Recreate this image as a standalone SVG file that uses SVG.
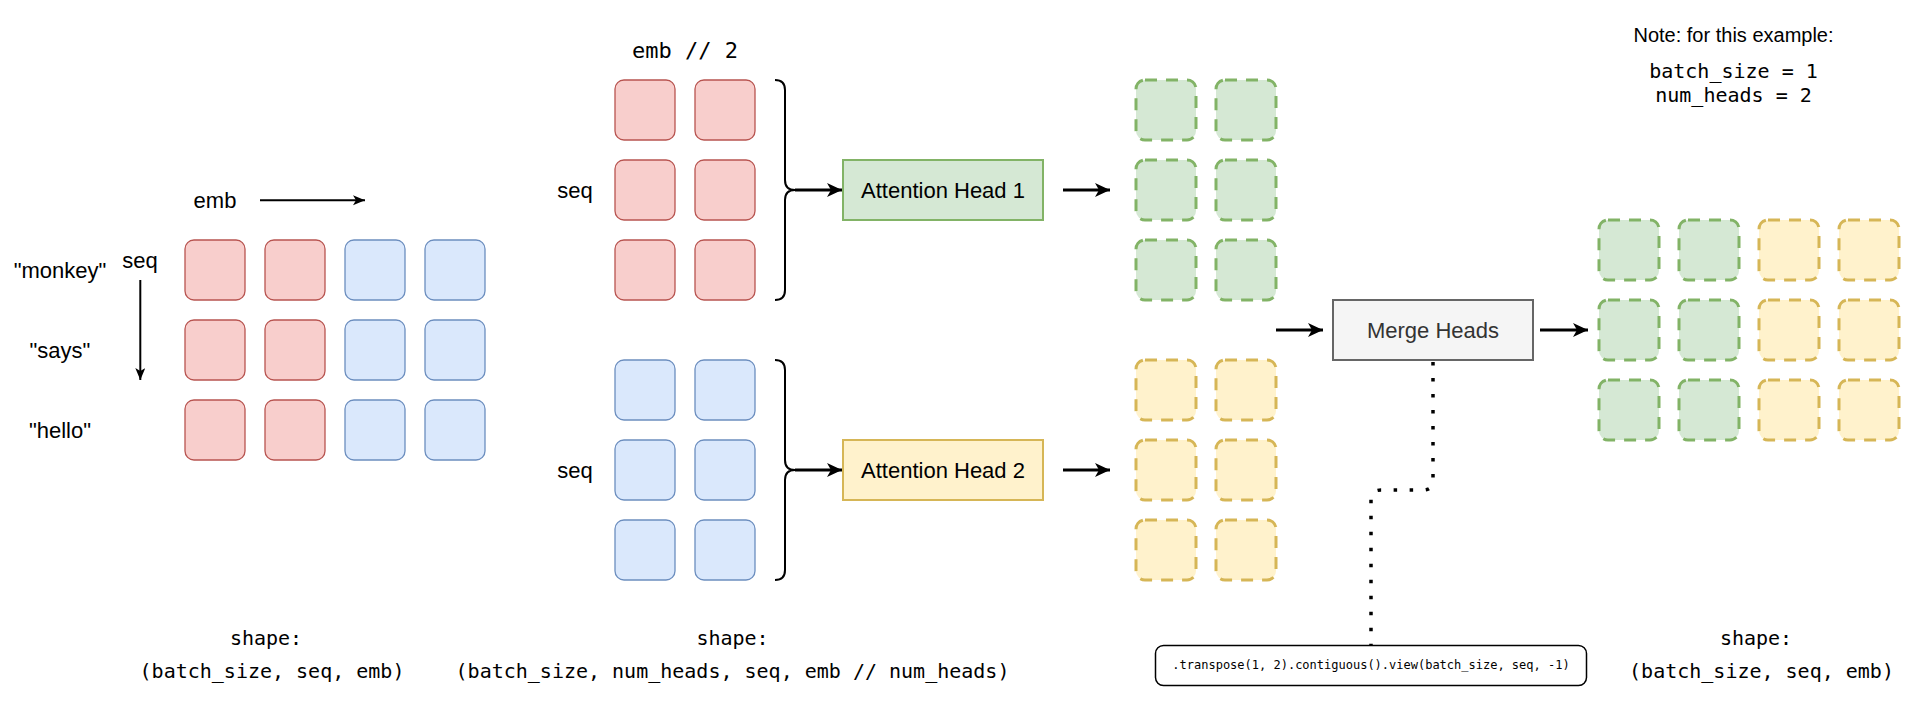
<svg xmlns="http://www.w3.org/2000/svg" width="1931" height="711" viewBox="0 0 1931 711">
<style>
  .sans { font-family: "Liberation Sans", Arial, sans-serif; font-size: 22px; fill: #000000; }
  .note { font-family: "Liberation Sans", Arial, sans-serif; font-size: 20px; fill: #000000; }
  .mono { font-family: "DejaVu Sans Mono", "Liberation Mono", monospace; font-size: 20px; fill: #000000; }
  .mono22 { font-family: "DejaVu Sans Mono", "Liberation Mono", monospace; font-size: 22px; fill: #000000; }
  .mono12 { font-family: "DejaVu Sans Mono", "Liberation Mono", monospace; font-size: 12px; fill: #000000; }
  .red { fill: #f8cecc; stroke: #b85450; stroke-width: 1.3; }
  .blue { fill: #dae8fc; stroke: #6c8ebf; stroke-width: 1.3; }
  .gdash { fill: #d5e8d4; stroke: #82b366; stroke-width: 3; stroke-dasharray: 12 9; }
  .ydash { fill: #fff2cc; stroke: #d6b656; stroke-width: 3; stroke-dasharray: 12 9; }
  .head1 { fill: #d5e8d4; stroke: #82b366; stroke-width: 2; }
  .head2 { fill: #fff2cc; stroke: #d6b656; stroke-width: 2; }
  .merge { fill: #f5f5f5; stroke: #666666; stroke-width: 2; }
  .thin { fill: none; stroke: #000000; stroke-width: 2; }
  .thick { fill: none; stroke: #000000; stroke-width: 3; }
  .brace { fill: none; stroke: #000000; stroke-width: 2; }
  .dots { fill: none; stroke: #000000; stroke-width: 3.5; stroke-dasharray: 3.5 12.5; }
</style>
<defs>
  <marker id="arrSmall" markerUnits="userSpaceOnUse" markerWidth="13" markerHeight="11" refX="12" refY="5" orient="auto" viewBox="0 0 13 11">
    <path d="M0,0 L12,5 L0,10 L3,5 Z" fill="#000000"/>
  </marker>
  <marker id="arrBig" markerUnits="userSpaceOnUse" markerWidth="16" markerHeight="15" refX="15" refY="7" orient="auto" viewBox="0 0 16 15">
    <path d="M0,0 L15,7 L0,14 L4,7 Z" fill="#000000"/>
  </marker>
</defs>
<rect x="0" y="0" width="1931" height="711" fill="#ffffff"/>

<!-- Left: input labels -->
<g id="labels-input">
  <text class="sans" x="215" y="208" text-anchor="middle">emb</text>
  <text class="sans" x="140" y="267.5" text-anchor="middle">seq</text>
  <text class="sans" x="60" y="277.7" text-anchor="middle">"monkey"</text>
  <text class="sans" x="60" y="357.7" text-anchor="middle">"says"</text>
  <text class="sans" x="60" y="437.7" text-anchor="middle">"hello"</text>
</g>

<!-- Input grid -->
<g id="input-grid">
  <g id="in-r1c1"><rect class="red" x="185" y="240" width="60" height="60" rx="9"/></g>
  <g id="in-r1c2"><rect class="red" x="265" y="240" width="60" height="60" rx="9"/></g>
  <g id="in-r1c3"><rect class="blue" x="345" y="240" width="60" height="60" rx="9"/></g>
  <g id="in-r1c4"><rect class="blue" x="425" y="240" width="60" height="60" rx="9"/></g>
  <g id="in-r2c1"><rect class="red" x="185" y="320" width="60" height="60" rx="9"/></g>
  <g id="in-r2c2"><rect class="red" x="265" y="320" width="60" height="60" rx="9"/></g>
  <g id="in-r2c3"><rect class="blue" x="345" y="320" width="60" height="60" rx="9"/></g>
  <g id="in-r2c4"><rect class="blue" x="425" y="320" width="60" height="60" rx="9"/></g>
  <g id="in-r3c1"><rect class="red" x="185" y="400" width="60" height="60" rx="9"/></g>
  <g id="in-r3c2"><rect class="red" x="265" y="400" width="60" height="60" rx="9"/></g>
  <g id="in-r3c3"><rect class="blue" x="345" y="400" width="60" height="60" rx="9"/></g>
  <g id="in-r3c4"><rect class="blue" x="425" y="400" width="60" height="60" rx="9"/></g>
</g>

<!-- Split heads -->
<g id="labels-split">
  <text class="mono22" x="685" y="58.3" text-anchor="middle">emb // 2</text>
  <text class="sans" x="575" y="197.5" text-anchor="middle">seq</text>
  <text class="sans" x="575" y="477.5" text-anchor="middle">seq</text>
</g>
<g id="split-head1">
  <g id="h1-r1c1"><rect class="red" x="615" y="80" width="60" height="60" rx="9"/></g>
  <g id="h1-r1c2"><rect class="red" x="695" y="80" width="60" height="60" rx="9"/></g>
  <g id="h1-r2c1"><rect class="red" x="615" y="160" width="60" height="60" rx="9"/></g>
  <g id="h1-r2c2"><rect class="red" x="695" y="160" width="60" height="60" rx="9"/></g>
  <g id="h1-r3c1"><rect class="red" x="615" y="240" width="60" height="60" rx="9"/></g>
  <g id="h1-r3c2"><rect class="red" x="695" y="240" width="60" height="60" rx="9"/></g>
</g>
<g id="split-head2">
  <g id="h2-r1c1"><rect class="blue" x="615" y="360" width="60" height="60" rx="9"/></g>
  <g id="h2-r1c2"><rect class="blue" x="695" y="360" width="60" height="60" rx="9"/></g>
  <g id="h2-r2c1"><rect class="blue" x="615" y="440" width="60" height="60" rx="9"/></g>
  <g id="h2-r2c2"><rect class="blue" x="695" y="440" width="60" height="60" rx="9"/></g>
  <g id="h2-r3c1"><rect class="blue" x="615" y="520" width="60" height="60" rx="9"/></g>
  <g id="h2-r3c2"><rect class="blue" x="695" y="520" width="60" height="60" rx="9"/></g>
</g>
<g id="brace1">
  <path class="brace" d="M775,80 Q785,80 785,90 L785,180 Q785,190 795,190 Q785,190 785,200 L785,290 Q785,300 775,300"/>
</g>
<g id="brace2">
  <path class="brace" d="M775,360 Q785,360 785,370 L785,460 Q785,470 795,470 Q785,470 785,480 L785,570 Q785,580 775,580"/>
</g>

<!-- Attention heads -->
<g id="attention-head-1">
  <rect class="head1" x="843" y="160" width="200" height="60"/>
  <text class="sans" x="943" y="197.5" text-anchor="middle">Attention Head 1</text>
</g>
<g id="attention-head-2">
  <rect class="head2" x="843" y="440" width="200" height="60"/>
  <text class="sans" x="943" y="477.5" text-anchor="middle">Attention Head 2</text>
</g>

<!-- Head outputs -->
<g id="out-head1">
  <g id="o1-r1c1"><rect class="gdash" x="1136" y="80" width="60" height="60" rx="9"/></g>
  <g id="o1-r1c2"><rect class="gdash" x="1216" y="80" width="60" height="60" rx="9"/></g>
  <g id="o1-r2c1"><rect class="gdash" x="1136" y="160" width="60" height="60" rx="9"/></g>
  <g id="o1-r2c2"><rect class="gdash" x="1216" y="160" width="60" height="60" rx="9"/></g>
  <g id="o1-r3c1"><rect class="gdash" x="1136" y="240" width="60" height="60" rx="9"/></g>
  <g id="o1-r3c2"><rect class="gdash" x="1216" y="240" width="60" height="60" rx="9"/></g>
</g>
<g id="out-head2">
  <g id="o2-r1c1"><rect class="ydash" x="1136" y="360" width="60" height="60" rx="9"/></g>
  <g id="o2-r1c2"><rect class="ydash" x="1216" y="360" width="60" height="60" rx="9"/></g>
  <g id="o2-r2c1"><rect class="ydash" x="1136" y="440" width="60" height="60" rx="9"/></g>
  <g id="o2-r2c2"><rect class="ydash" x="1216" y="440" width="60" height="60" rx="9"/></g>
  <g id="o2-r3c1"><rect class="ydash" x="1136" y="520" width="60" height="60" rx="9"/></g>
  <g id="o2-r3c2"><rect class="ydash" x="1216" y="520" width="60" height="60" rx="9"/></g>
</g>

<!-- Merge heads -->
<g id="merge-heads">
  <rect class="merge" x="1333" y="300" width="200" height="60"/>
  <text class="sans" x="1433" y="337.7" text-anchor="middle" style="fill:#333333">Merge Heads</text>
</g>

<!-- Transpose note -->
<g id="transpose-box">
  <rect x="1155.5" y="645.5" width="431" height="40" rx="8" fill="#ffffff" stroke="#000000" stroke-width="1.5"/>
  <text class="mono12" x="1371" y="668.5" text-anchor="middle">.transpose(1, 2).contiguous().view(batch_size, seq, -1)</text>
</g>

<!-- Note -->
<g id="note">
  <text class="note" x="1733.5" y="41.7" text-anchor="middle">Note: for this example:</text>
  <text class="mono" x="1733.5" y="78.3" text-anchor="middle">batch_size = 1</text>
  <text class="mono" x="1733.5" y="101.7" text-anchor="middle">num_heads = 2</text>
</g>

<!-- Merged output grid -->
<g id="merged-grid">
  <g id="m-r1c1"><rect class="gdash" x="1599" y="220" width="60" height="60" rx="9"/></g>
  <g id="m-r1c2"><rect class="gdash" x="1679" y="220" width="60" height="60" rx="9"/></g>
  <g id="m-r1c3"><rect class="ydash" x="1759" y="220" width="60" height="60" rx="9"/></g>
  <g id="m-r1c4"><rect class="ydash" x="1839" y="220" width="60" height="60" rx="9"/></g>
  <g id="m-r2c1"><rect class="gdash" x="1599" y="300" width="60" height="60" rx="9"/></g>
  <g id="m-r2c2"><rect class="gdash" x="1679" y="300" width="60" height="60" rx="9"/></g>
  <g id="m-r2c3"><rect class="ydash" x="1759" y="300" width="60" height="60" rx="9"/></g>
  <g id="m-r2c4"><rect class="ydash" x="1839" y="300" width="60" height="60" rx="9"/></g>
  <g id="m-r3c1"><rect class="gdash" x="1599" y="380" width="60" height="60" rx="9"/></g>
  <g id="m-r3c2"><rect class="gdash" x="1679" y="380" width="60" height="60" rx="9"/></g>
  <g id="m-r3c3"><rect class="ydash" x="1759" y="380" width="60" height="60" rx="9"/></g>
  <g id="m-r3c4"><rect class="ydash" x="1839" y="380" width="60" height="60" rx="9"/></g>
</g>

<!-- Shape labels -->
<g id="shape-input">
  <text class="mono" x="266" y="645" text-anchor="middle">shape:</text>
  <text class="mono" x="272" y="678.3" text-anchor="middle">(batch_size, seq, emb)</text>
</g>
<g id="shape-split">
  <text class="mono" x="732.5" y="645" text-anchor="middle">shape:</text>
  <text class="mono" x="732.5" y="678.3" text-anchor="middle">(batch_size, num_heads, seq, emb // num_heads)</text>
</g>
<g id="shape-output">
  <text class="mono" x="1756" y="645" text-anchor="middle">shape:</text>
  <text class="mono" x="1761.5" y="678.3" text-anchor="middle">(batch_size, seq, emb)</text>
</g>

<!-- Connectors -->
<g id="connectors">
  <line class="thin" x1="260" y1="200.3" x2="365" y2="200.3" marker-end="url(#arrSmall)"/>
  <line class="thin" x1="140.3" y1="280" x2="140.3" y2="380" marker-end="url(#arrSmall)"/>
  <line class="thick" x1="795" y1="190" x2="842" y2="190" marker-end="url(#arrBig)"/>
  <line class="thick" x1="795" y1="470" x2="842" y2="470" marker-end="url(#arrBig)"/>
  <line class="thick" x1="1063" y1="190" x2="1110" y2="190" marker-end="url(#arrBig)"/>
  <line class="thick" x1="1063" y1="470" x2="1110" y2="470" marker-end="url(#arrBig)"/>
  <line class="thick" x1="1276" y1="330" x2="1323" y2="330" marker-end="url(#arrBig)"/>
  <line class="thick" x1="1540" y1="330" x2="1588" y2="330" marker-end="url(#arrBig)"/>
  <path class="dots" d="M1433,362 L1433,480 Q1433,490 1423,490 L1381,490 Q1371,490 1371,500 L1371,645"/>
</g>
</svg>
